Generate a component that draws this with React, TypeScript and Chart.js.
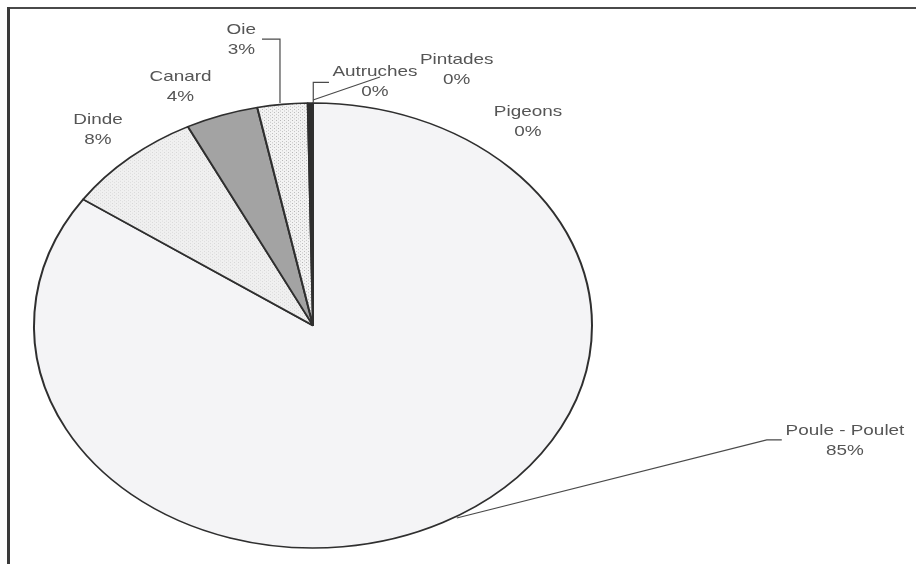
import React, { useEffect, useRef } from "react";
import { Chart, registerables } from "chart.js";

Chart.register(...registerables);

// ---- data ----
const categories = ["Pintades", "Pigeons", "Poule - Poulet", "Dinde", "Canard", "Oie", "Autruches"];
const shares = [0, 0, 84.6, 8.0, 4.2, 2.9, 0.3];
const percentLabels = shares.map((v) => `${Math.round(v)}%`);

// ---- styling / layout (not data) ----
const CANVAS_W = 916;
const CANVAS_H = 610;
const PIE_RADIUS = 279;
const ELLIPSE_RATIO = 222.5 / 279;
const TEXT_STRETCH = 1.26;
// label block centre, offset from the slice's mid-angle edge point
const labelOffsets: [number, number][] = [
  [143.7, -33.5],
  [215, 19],
  [402.2, -82],
  [-31.8, -28.2],
  [-41.3, -28.2],
  [-41.1, -64.8],
  [64.6, -21],
];
// leader-line polylines, relative to the slice's mid-angle edge point
const leaderLines: ([number, number][] | null)[] = [
  [[0, -3], [67, -26]],
  null,
  [[14, -4.5], [324, -82.5], [339, -82.5]],
  null,
  null,
  [[-2.4, -1.3], [-2.4, -65.3], [-20.4, -65.3]],
  [[2.9, 0], [2.9, -20.7], [18.6, -20.7]],
];

function makePattern(bg: string, dot: string, size: number, dots: [number, number][]) {
  const c = document.createElement("canvas");
  c.width = size;
  c.height = size;
  const g = c.getContext("2d")!;
  g.fillStyle = bg;
  g.fillRect(0, 0, size, size);
  g.fillStyle = dot;
  dots.forEach(([x, y]) => g.fillRect(x, y, 1, 1));
  return g.createPattern(c, "repeat")!;
}

export default function App() {
  const ref = useRef<HTMLCanvasElement | null>(null);

  useEffect(() => {
    const canvas = ref.current!;
    const dindePattern = makePattern("#f0f0f0", "#d6d6d6", 4, [[0, 0], [2, 2]]);
    const oiePattern = makePattern("#f3f3f3", "#b4b4b4", 4, [[0, 0], [2, 2]]);
    const colors = ["#ffffff", "#ffffff", "#f4f4f6", dindePattern, "#a3a3a3", oiePattern, "#2e2e2e"];

    const ellipsePlugin = {
      id: "ellipseAndLabels",
      beforeDatasetsDraw(chart: any) {
        const { ctx, chartArea } = chart;
        const cx = (chartArea.left + chartArea.right) / 2;
        const cy = (chartArea.top + chartArea.bottom) / 2;
        ctx.save();
        ctx.translate(cx, cy);
        ctx.scale(1, ELLIPSE_RATIO);
        ctx.translate(-cx, -cy);
      },
      afterDatasetsDraw(chart: any) {
        const { ctx } = chart;
        ctx.restore();
        const meta = chart.getDatasetMeta(0);
        meta.data.forEach((arc: any, i: number) => {
          const { x, y, startAngle, endAngle, outerRadius } = arc.getProps(
            ["x", "y", "startAngle", "endAngle", "outerRadius"],
            true
          );
          const mid = (startAngle + endAngle) / 2;
          const ax = x + outerRadius * Math.cos(mid);
          const ay = y + outerRadius * ELLIPSE_RATIO * Math.sin(mid);
          const leader = leaderLines[i];
          ctx.save();
          if (leader) {
            ctx.strokeStyle = "#4a4a4a";
            ctx.lineWidth = 1.2;
            ctx.beginPath();
            leader.forEach(([dx, dy], k) => {
              if (k === 0) ctx.moveTo(ax + dx, ay + dy);
              else ctx.lineTo(ax + dx, ay + dy);
            });
            ctx.stroke();
          }
          const [ox, oy] = labelOffsets[i];
          ctx.translate(ax + ox, ay + oy);
          ctx.scale(TEXT_STRETCH, 1);
          ctx.fillStyle = "#555555";
          ctx.font = "15px 'Liberation Sans', Arial, sans-serif";
          ctx.textAlign = "center";
          ctx.textBaseline = "middle";
          ctx.fillText(categories[i], 0, -10);
          ctx.fillText(percentLabels[i], 0, 10);
          ctx.restore();
        });
      },
    };

    const chart = new Chart(canvas, {
      type: "pie",
      data: {
        labels: categories,
        datasets: [
          {
            data: shares,
            backgroundColor: colors as any,
            borderColor: "#2f2f2f",
            borderWidth: 2,
            clip: false as any,
          },
        ],
      },
      options: {
        responsive: false,
        animation: false,
        radius: PIE_RADIUS,
        layout: {
          padding: { left: 34, right: CANVAS_W - 313 - PIE_RADIUS, top: 46.5, bottom: CANVAS_H - 325.5 - PIE_RADIUS },
        },
        plugins: {
          legend: { display: false },
          tooltip: { enabled: false },
        },
        events: [],
      } as any,
      plugins: [ellipsePlugin],
    });
    return () => chart.destroy();
  }, []);

  return (
    <div style={{ position: "absolute", left: 0, top: 0, width: 916, height: 564, overflow: "hidden", background: "#ffffff" }}>
      <canvas ref={ref} width={CANVAS_W} height={CANVAS_H} style={{ position: "absolute", left: 0, top: 0, width: CANVAS_W, height: CANVAS_H }} />
      <div style={{ position: "absolute", left: 7, top: 7, width: 909, height: 2, background: "#4a4a4a" }} />
      <div style={{ position: "absolute", left: 7, top: 7, width: 3, height: 557, background: "#3a3a3a" }} />
    </div>
  );
}
